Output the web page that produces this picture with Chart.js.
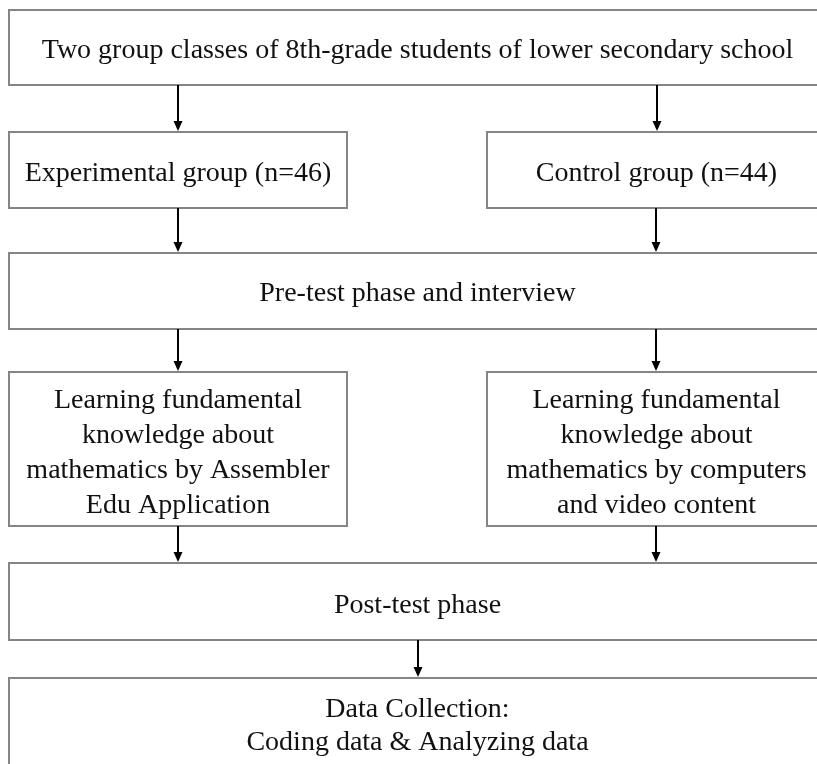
<!DOCTYPE html>
<html>
<head>
<meta charset="utf-8">
<script src="https://cdn.jsdelivr.net/npm/chart.js@4"></script>
<style>
  html, body { margin: 0; padding: 0; background: #fff; }
  #flow { display: block; }
</style>
</head>
<body>
<canvas id="flow" width="817" height="764"></canvas>
<script>
// Cajas del diagrama (unidades del eje)
const boxLabels = [
  'Two group classes of 8th-grade students of lower secondary school',
  'Experimental group (n=46)',
  'Control group (n=44)',
  'Pre-test phase and interview',
  'Learning fundamental\nknowledge about\nmathematics by Assembler\nEdu Application',
  'Learning fundamental\nknowledge about\nmathematics by computers\nand video content',
  'Post-test phase',
  'Data Collection:\nCoding data & Analyzing data'
];
const boxLeft   = [9, 9, 487, 9, 9, 487, 9, 9];
const boxRight  = [826, 347, 826, 826, 347, 826, 826, 826];
const boxTop    = [10, 132, 132, 253, 372, 372, 563, 678];
const boxBottom = [85, 208, 208, 329, 526, 526, 640, 806];
const boxTextY  = [48, 171, 171, 291.5, 451, 451, 603, 724];

// Flechas
const arrowX    = [178, 657, 178, 656, 178, 656, 178, 656, 418];
const arrowFrom = [85, 85, 208, 208, 329, 329, 526, 526, 640];
const arrowTo   = [131, 131, 252, 252, 371, 371, 562, 562, 677];

const flowPlugin = {
  id: 'flow',
  afterDatasetsDraw(chart) {
    const ctx = chart.ctx;
    const xs = chart.scales.x;
    const ys = chart.scales.y;
    const fontSize = 28;
    ctx.save();

    // cajas
    ctx.strokeStyle = '#858585';
    ctx.lineWidth = 2;
    boxLabels.forEach((label, i) => {
      const x1 = xs.getPixelForValue(boxLeft[i]);
      const x2 = xs.getPixelForValue(boxRight[i]);
      const y1 = ys.getPixelForValue(boxTop[i]);
      const y2 = ys.getPixelForValue(boxBottom[i]);
      ctx.strokeRect(x1, y1, x2 - x1, y2 - y1);

      const lines = label.split('\n');
      const lh = lines.length > 2 ? 34.7 : 32.5;
      const cx = xs.getPixelForValue((boxLeft[i] + boxRight[i]) / 2);
      const cy = ys.getPixelForValue(boxTextY[i]);
      ctx.fillStyle = '#111';
      ctx.font = fontSize + "px 'Liberation Serif', 'Times New Roman', serif";
      ctx.textAlign = 'center';
      ctx.textBaseline = 'alphabetic';
      lines.forEach((ln, j) => {
        const y = cy + (j - (lines.length - 1) / 2) * lh + fontSize * 0.34;
        ctx.fillText(ln, cx, y);
      });
    });

    // flechas
    ctx.strokeStyle = '#000';
    ctx.fillStyle = '#000';
    ctx.lineWidth = 2;
    arrowX.forEach((ax, i) => {
      const x = xs.getPixelForValue(ax);
      const y1 = ys.getPixelForValue(arrowFrom[i]);
      const y2 = ys.getPixelForValue(arrowTo[i]);
      ctx.beginPath();
      ctx.moveTo(x, y1);
      ctx.lineTo(x, y2 - 8);
      ctx.stroke();
      ctx.beginPath();
      ctx.moveTo(x - 4.5, y2 - 10);
      ctx.lineTo(x + 4.5, y2 - 10);
      ctx.lineTo(x, y2);
      ctx.closePath();
      ctx.fill();
    });

    ctx.restore();
  }
};

new Chart(document.getElementById('flow'), {
  type: 'scatter',
  data: { datasets: [{ data: [] }] },
  options: {
    responsive: false,
    animation: false,
    layout: { padding: 0 },
    plugins: { legend: { display: false }, tooltip: { enabled: false } },
    scales: {
      x: { type: 'linear', min: 0, max: 817, display: false },
      y: { type: 'linear', min: 0, max: 764, reverse: true, display: false }
    }
  },
  plugins: [flowPlugin]
});
</script>
</body>
</html>
